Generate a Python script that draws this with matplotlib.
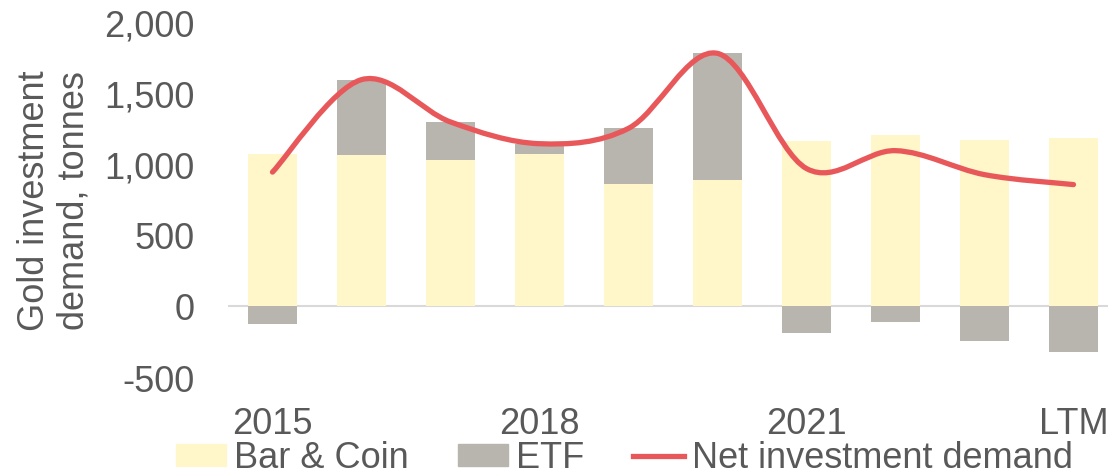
import numpy as np
import matplotlib
matplotlib.use("Agg")
import matplotlib.pyplot as plt
from matplotlib.path import Path
from matplotlib.patches import PathPatch
from matplotlib.lines import Line2D

# data (tonnes)
categories = ["2015", "2016", "2017", "2018", "2019", "2020", "2021", "2022", "2023", "LTM"]
bar_coin = [1070, 1063, 1026, 1070, 857, 889, 1160, 1204, 1169, 1181]
etf = [-127, 531, 270, 73, 394, 890, -192, -110, -244, -326]
net_demand = [943, 1594, 1296, 1143, 1251, 1779, 968, 1094, 925, 855]
shown_ticks = ["2015", "2018", "2021", "LTM"]

YELLOW = "#fff6c9"
GREY = "#b8b5ae"
RED = "#e8585a"
TEXT = "#595959"

plt.rcParams["font.family"] = ["Liberation Sans", "DejaVu Sans"]
plt.rcParams["font.size"] = 26


def smooth_path(xs, ys):
    # Excel-style smoothed line: Catmull-Rom segments as cubic Beziers
    pts = np.column_stack([xs, ys]).astype(float)
    n = len(pts)
    verts = [pts[0]]
    codes = [Path.MOVETO]
    for i in range(n - 1):
        p0 = pts[i - 1] if i > 0 else pts[i]
        p1 = pts[i]
        p2 = pts[i + 1]
        p3 = pts[i + 2] if i + 2 < n else pts[i + 1]
        c1 = p1 + (p2 - p0) / 6.0
        c2 = p2 - (p3 - p1) / 6.0
        verts += [c1, c2, p2]
        codes += [Path.CURVE4] * 3
    return Path(verts, codes)


fig = plt.figure(figsize=(11.08, 4.77), dpi=100)
ax = fig.add_axes([228 / 1108, 99 / 477, 880 / 1108, 355 / 477])

x = np.arange(len(categories))
width = 0.55
bc = np.array(bar_coin)
ef = np.array(etf)
etf_bottom = np.where(ef > 0, bc, 0)

ax.bar(x, bc, width, color=YELLOW, linewidth=0, zorder=2)
ax.bar(x, ef, width, bottom=etf_bottom, color=GREY, linewidth=0, zorder=2)
ax.axhline(0, color="#d9d9d9", lw=1.5, zorder=1)

line_patch = PathPatch(smooth_path(x, net_demand), facecolor="none", edgecolor=RED,
                       lw=3.8, capstyle="round", joinstyle="round", zorder=3)
ax.add_patch(line_patch)

ax.set_xlim(-0.5, -0.5 + 880 / 89)
ax.set_ylim(-500, 2000)
ax.set_yticks([-500, 0, 500, 1000, 1500, 2000])
ax.set_yticklabels(["-500", "0", "500", "1,000", "1,500", "2,000"])
tick_pos = [categories.index(c) for c in shown_ticks]
ax.set_xticks(tick_pos)
ax.set_xticklabels(shown_ticks)
ax.tick_params(axis="y", length=0, pad=24, colors=TEXT)
ax.tick_params(axis="x", length=0, pad=21, colors=TEXT)
for s in ax.spines.values():
    s.set_visible(False)

ax.set_ylabel("Gold investment\ndemand, tonnes", color=TEXT)
ax.yaxis.set_label_coords((92 - 228) / 880, 0.5)

handles = [
    plt.Rectangle((0, 0), 1, 1, color=YELLOW),
    plt.Rectangle((0, 0), 1, 1, color=GREY),
    Line2D([0], [0], color=RED, lw=3.8),
]
fig.legend(handles, ["Bar & Coin", "ETF", "Net investment demand"], loc="center",
           bbox_to_anchor=(624 / 1108, 1 - 459 / 477), ncol=3, frameon=False,
           handlelength=1.4, handleheight=0.55, handletextpad=0.22,
           columnspacing=1.35, borderpad=0, labelcolor=TEXT)

fig.savefig("out.png", dpi=100, facecolor="white")
